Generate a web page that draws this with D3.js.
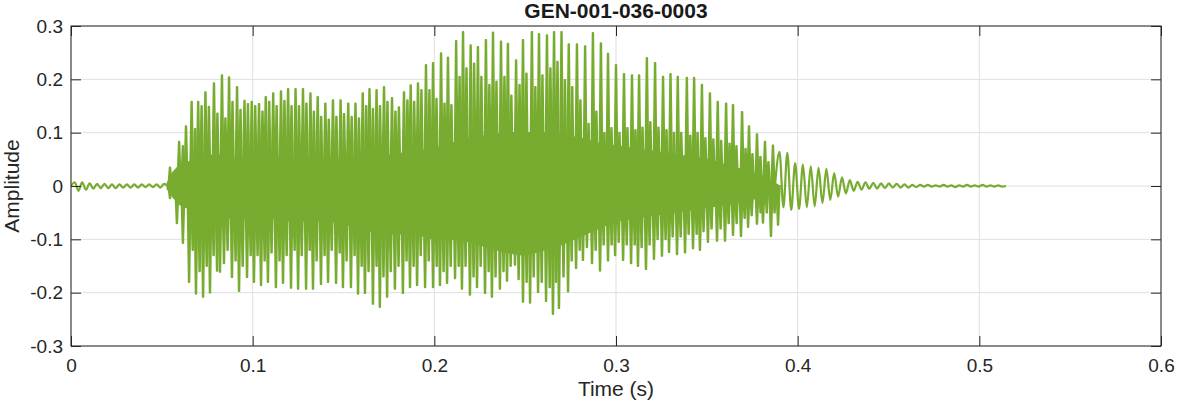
<!DOCTYPE html>
<html><head><meta charset="utf-8">
<script src="https://cdn.jsdelivr.net/npm/d3@7"></script>
<style>
html,body{margin:0;padding:0;background:#fff;}
svg{display:block;font-family:"Liberation Sans",Arial,Helvetica,sans-serif;}
</style></head><body>
<svg id="chart" width="1177" height="404"></svg>
<script>
// ---------------- data ----------------
const chartTitle = "GEN-001-036-0003";
const xLabel = "Time (s)";
const yLabel = "Amplitude";
const xTicks = [0, 0.1, 0.2, 0.3, 0.4, 0.5, 0.6];
const xTickLabels = ["0", "0.1", "0.2", "0.3", "0.4", "0.5", "0.6"];
const yTicks = [-0.3, -0.2, -0.1, 0, 0.1, 0.2, 0.3];
const yTickLabels = ["-0.3", "-0.2", "-0.1", "0", "0.1", "0.2", "0.3"];

// low-level ripple before voicing (extrema, every leadStep seconds from leadStart)
const leadStart = 0;
const leadStep = 0.00205;
const leadValues = [0.000, 0.007, -0.009, 0.007, -0.007, 0.005, -0.005, 0.004, -0.004, 0.004,
  -0.004, 0.003, -0.004, 0.003, -0.003, 0.003, -0.003, 0.003, -0.003, 0.003,
  -0.002, 0.003, -0.002, 0.003, -0.003, 0.004, 0.000];

// decaying oscillation after voicing (extrema, every tailStep seconds from tailStart)
const tailStart = 0.390;
const tailStep = 0.00215;
const tailValues = [0.064, -0.040, 0.062, -0.045, 0.043, -0.043, 0.040, -0.040, 0.037, -0.038,
  0.034, -0.032, 0.032, -0.026, 0.024, -0.020, 0.016, -0.014, 0.011, -0.009,
  0.008, -0.007, 0.007, -0.005, 0.006, -0.005, 0.005, -0.004, 0.005, -0.003,
  0.004, -0.003, 0.003, -0.003, 0.002, -0.002, 0.002, -0.001, 0.002, -0.001,
  0.001, -0.001, 0.002, -0.001, 0.001, -0.002, 0.001, -0.001, 0.002, -0.001,
  0.001, -0.001, 0.002, -0.001, 0.001, -0.001, 0.001, -0.001, 0.000];

// dense body of the voiced part: time, upper and lower bound of the filled band
const bodyTime = [0.053, 0.056, 0.06, 0.07, 0.08, 0.09, 0.10, 0.11, 0.12, 0.13, 0.14, 0.15, 0.16, 0.17,
  0.18, 0.19, 0.20, 0.21, 0.22, 0.23, 0.24, 0.25, 0.26, 0.27, 0.28, 0.29, 0.30, 0.31, 0.32, 0.33,
  0.34, 0.35, 0.36, 0.37, 0.38, 0.39];
const bodyUpper = [0.005, 0.025, 0.040, 0.050, 0.060, 0.050, 0.050, 0.055, 0.050, 0.050, 0.050, 0.050,
  0.050, 0.055, 0.060, 0.065, 0.070, 0.080, 0.090, 0.095, 0.100, 0.100, 0.100, 0.095, 0.090, 0.080,
  0.075, 0.070, 0.065, 0.060, 0.055, 0.050, 0.040, 0.030, 0.020, 0.000];
const bodyLower = [-0.005, -0.020, -0.035, -0.050, -0.060, -0.060, -0.060, -0.060, -0.065, -0.065, -0.065, -0.070,
  -0.080, -0.090, -0.090, -0.090, -0.100, -0.100, -0.105, -0.115, -0.125, -0.130, -0.120, -0.110, -0.095, -0.080,
  -0.065, -0.060, -0.055, -0.050, -0.045, -0.040, -0.035, -0.030, -0.020, 0.000];

// glottal-pulse spikes: [time, amplitude]
const mainPeaks = [[0.0545,0.035],[0.0595,0.083],[0.0633,0.112],[0.0664,0.158],[0.0700,0.158],[0.0740,0.176],
  [0.0787,0.193],[0.0831,0.208],[0.0870,0.204],[0.0914,0.186],[0.0955,0.160],[0.0995,0.158],[0.1035,0.154],
  [0.1072,0.167],[0.1113,0.174],[0.1156,0.178],[0.1195,0.182],[0.1236,0.182],[0.1277,0.182],[0.1318,0.174],
  [0.1358,0.167],[0.1400,0.155],[0.1442,0.161],[0.1484,0.161],[0.1526,0.155],[0.1566,0.155],[0.1606,0.174],
  [0.1643,0.182],[0.1682,0.180],[0.1723,0.186],[0.1767,0.165],[0.1805,0.148],[0.1833,0.176],[0.1870,0.189],
  [0.1910,0.193],[0.1954,0.227],[0.1993,0.231],[0.2037,0.249],[0.2075,0.241],[0.2120,0.272],[0.2158,0.289],
  [0.2200,0.264],[0.2240,0.261],[0.2284,0.274],[0.2323,0.288],[0.2367,0.271],[0.2405,0.267],[0.2450,0.236],
  [0.2488,0.274],[0.2537,0.289],[0.2576,0.285],[0.2620,0.283],[0.2659,0.289],[0.2700,0.289],[0.2740,0.266],
  [0.2785,0.266],[0.2830,0.262],[0.2873,0.287],[0.2917,0.268],[0.2956,0.248],[0.3000,0.227],[0.3044,0.210],
  [0.3088,0.208],[0.3127,0.208],[0.3170,0.240],[0.3215,0.231],[0.3259,0.205],[0.3300,0.210],[0.3340,0.205],
  [0.3390,0.203],[0.3430,0.203],[0.3473,0.190],[0.3517,0.174],[0.3560,0.158],[0.3606,0.155],[0.3644,0.152],
  [0.3694,0.139],[0.3732,0.112],[0.3776,0.097],[0.3820,0.083],[0.3864,0.076]];
const minorPeaks = [[0.0572,0.027],[0.0616,0.075],[0.0683,0.107],[0.0719,0.150],[0.0759,0.149],[0.0806,0.136],
  [0.0850,0.127],[0.0889,0.158],[0.0933,0.143],[0.0974,0.154],[0.1014,0.150],[0.1054,0.140],[0.1091,0.158],
  [0.1132,0.150],[0.1175,0.160],[0.1214,0.150],[0.1255,0.150],[0.1296,0.155],[0.1337,0.140],[0.1377,0.130],
  [0.1419,0.125],[0.1461,0.130],[0.1503,0.135],[0.1545,0.130],[0.1585,0.127],[0.1625,0.150],[0.1662,0.145],
  [0.1701,0.150],[0.1742,0.158],[0.1786,0.140],[0.1852,0.161],[0.1889,0.158],[0.1929,0.180],[0.1973,0.180],
  [0.2012,0.164],[0.2056,0.155],[0.2094,0.152],[0.2139,0.205],[0.2177,0.221],[0.2219,0.230],[0.2259,0.205],
  [0.2303,0.190],[0.2342,0.196],[0.2386,0.205],[0.2424,0.170],[0.2469,0.190],[0.2507,0.211],[0.2556,0.186],
  [0.2595,0.208],[0.2639,0.221],[0.2678,0.233],[0.2719,0.199],[0.2759,0.186],[0.2804,0.161],[0.2849,0.117],
  [0.2892,0.140],[0.2936,0.100],[0.2975,0.109],[0.3019,0.100],[0.3063,0.109],[0.3107,0.105],[0.3146,0.110],
  [0.3189,0.120],[0.3234,0.110],[0.3278,0.105],[0.3319,0.100],[0.3359,0.100],[0.3409,0.095],[0.3449,0.100],
  [0.3492,0.090],[0.3536,0.088],[0.3579,0.085],[0.3625,0.080],[0.3663,0.075],[0.3713,0.070],[0.3751,0.060],
  [0.3795,0.055],[0.3839,0.045]];
const mainTroughs = [[0.0545,-0.023],[0.0583,-0.070],[0.0616,-0.107],[0.0650,-0.180],[0.0688,-0.202],
  [0.0727,-0.208],[0.0765,-0.200],[0.0804,-0.159],[0.0820,-0.161],[0.0842,-0.145],[0.0886,-0.171],
  [0.0925,-0.197],[0.0969,-0.171],[0.1007,-0.180],[0.1046,-0.186],[0.1084,-0.180],[0.1128,-0.190],
  [0.1167,-0.182],[0.1211,-0.191],[0.1250,-0.193],[0.1294,-0.193],[0.1332,-0.193],[0.1376,-0.184],
  [0.1415,-0.180],[0.1459,-0.182],[0.1497,-0.190],[0.1541,-0.190],[0.1580,-0.202],[0.1618,-0.201],
  [0.1662,-0.221],[0.1700,-0.227],[0.1740,-0.208],[0.1783,-0.193],[0.1827,-0.201],[0.1866,-0.190],
  [0.1905,-0.186],[0.1949,-0.190],[0.1993,-0.190],[0.2031,-0.186],[0.2070,-0.182],[0.2114,-0.173],
  [0.2152,-0.193],[0.2196,-0.204],[0.2235,-0.190],[0.2279,-0.201],[0.2317,-0.208],[0.2361,-0.193],
  [0.2400,-0.178],[0.2444,-0.148],[0.2488,-0.217],[0.2527,-0.219],[0.2571,-0.199],[0.2615,-0.216],
  [0.2653,-0.240],[0.2686,-0.229],[0.2736,-0.198],[0.2780,-0.154],[0.2818,-0.139],[0.2868,-0.145],
  [0.2912,-0.159],[0.2956,-0.140],[0.2995,-0.130],[0.3039,-0.139],[0.3083,-0.145],[0.3121,-0.150],
  [0.3165,-0.156],[0.3209,-0.137],[0.3253,-0.131],[0.3292,-0.124],[0.3336,-0.128],[0.3380,-0.125],
  [0.3424,-0.117],[0.3462,-0.120],[0.3506,-0.105],[0.3556,-0.103],[0.3600,-0.103],[0.3644,-0.092],
  [0.3688,-0.094],[0.3727,-0.077],[0.3776,-0.071],[0.3809,-0.069],[0.3853,-0.094],[0.3892,-0.073]];
const minorTroughs = [[0.0670,-0.120],[0.0708,-0.160],[0.0747,-0.150],[0.0785,-0.130],[0.0862,-0.120],
  [0.0906,-0.140],[0.0945,-0.150],[0.0989,-0.130],[0.1027,-0.130],[0.1066,-0.140],[0.1104,-0.125],
  [0.1148,-0.140],[0.1187,-0.130],[0.1231,-0.120],[0.1270,-0.130],[0.1314,-0.120],[0.1352,-0.140],
  [0.1396,-0.130],[0.1435,-0.120],[0.1479,-0.125],[0.1517,-0.140],[0.1561,-0.130],[0.1600,-0.150],
  [0.1638,-0.160],[0.1682,-0.150],[0.1720,-0.170],[0.1760,-0.160],[0.1803,-0.150],[0.1847,-0.140],
  [0.1886,-0.150],[0.1925,-0.130],[0.1969,-0.140],[0.2013,-0.150],[0.2051,-0.160],[0.2090,-0.150],
  [0.2134,-0.150],[0.2172,-0.150],[0.2216,-0.170],[0.2255,-0.150],[0.2299,-0.160],[0.2337,-0.170],
  [0.2381,-0.160],[0.2420,-0.150],[0.2464,-0.175],[0.2508,-0.180],[0.2547,-0.170],[0.2591,-0.180],
  [0.2635,-0.190],[0.2670,-0.180],[0.2711,-0.170],[0.2756,-0.140],[0.2800,-0.120],[0.2840,-0.115],
  [0.2888,-0.120],[0.2932,-0.110],[0.2976,-0.110],[0.3015,-0.105],[0.3059,-0.110],[0.3103,-0.110],
  [0.3141,-0.115],[0.3185,-0.110],[0.3229,-0.100],[0.3273,-0.100],[0.3312,-0.095],[0.3356,-0.095],
  [0.3400,-0.090],[0.3444,-0.090],[0.3482,-0.085],[0.3526,-0.080],[0.3576,-0.080],[0.3620,-0.070],
  [0.3664,-0.070],[0.3708,-0.060],[0.3747,-0.055],[0.3796,-0.050],[0.3830,-0.050],[0.3873,-0.050]];

// ---------------- drawing ----------------
const W = 1177, H = 404;
const plot = {left: 71, top: 26, right: 1161, bottom: 346};
const lineColor = "#77AC30";
const axisColor = "#262626";

const svg = d3.select("#chart");
const x = d3.scaleLinear().domain([0, 0.6]).range([plot.left, plot.right]);
const y = d3.scaleLinear().domain([-0.3, 0.3]).range([plot.bottom, plot.top]);

svg.append("rect").attr("width", W).attr("height", H).attr("fill", "#fff");

svg.append("clipPath").attr("id", "clip").append("rect")
  .attr("x", plot.left).attr("y", plot.top)
  .attr("width", plot.right - plot.left).attr("height", plot.bottom - plot.top);

// grid
const grid = svg.append("g").attr("stroke", "#dfdfdf").attr("stroke-width", 1);
xTicks.forEach(t => grid.append("line")
  .attr("x1", x(t)).attr("x2", x(t)).attr("y1", plot.top).attr("y2", plot.bottom));
yTicks.forEach(t => grid.append("line")
  .attr("x1", plot.left).attr("x2", plot.right).attr("y1", y(t)).attr("y2", y(t)));

const g = svg.append("g").attr("clip-path", "url(#clip)");

// dense body
const bodyRows = bodyTime.map((t, i) => [t, bodyUpper[i], bodyLower[i]]);
g.append("path").datum(bodyRows)
  .attr("fill", lineColor)
  .attr("stroke", lineColor).attr("stroke-width", 1.5)
  .attr("d", d3.area().x(d => x(d[0])).y0(d => y(d[2])).y1(d => y(d[1])));

// ripple lines (smooth through the extrema)
const smooth = d3.line().x(d => x(d[0])).y(d => y(d[1])).curve(d3.curveMonotoneX);
const leadRows = leadValues.map((v, i) => [leadStart + i * leadStep, v]);
const tailRows = [[0.3875, 0.0]].concat(tailValues.map((v, i) => [tailStart + i * tailStep, v]));
[leadRows, tailRows].forEach(rows => g.append("path").datum(rows)
  .attr("fill", "none").attr("stroke", lineColor).attr("stroke-width", 2.2)
  .attr("stroke-linejoin", "round").attr("d", smooth));

// spikes: narrow tapered shapes rising from the zero line to each extreme
const line = d3.line().x(d => x(d[0])).y(d => y(d[1]));
const spikeBase = 0.001, spikeTip = 0.00018;
const spikes = [].concat(mainPeaks, minorPeaks, mainTroughs, minorTroughs);
g.append("g").selectAll("path").data(spikes).join("path")
  .attr("fill", lineColor).attr("stroke", lineColor).attr("stroke-width", 1.8)
  .attr("stroke-linejoin", "round")
  .attr("d", d => line([[d[0] - spikeBase, 0], [d[0] - spikeTip, d[1]], [d[0] + spikeTip, d[1]], [d[0] + spikeBase, 0]]) + "Z");

// axes
const tickFont = 19;
function styleAxis(sel) {
  sel.select(".domain").remove();
  sel.selectAll(".tick line").attr("stroke", axisColor);
  sel.selectAll(".tick text").attr("fill", axisColor).attr("font-size", tickFont)
    .attr("font-family", "'Liberation Sans', Arial, Helvetica, sans-serif");
}
svg.append("g").attr("transform", `translate(0,${plot.bottom})`)
  .call(d3.axisBottom(x).tickValues(xTicks).tickFormat((d, i) => xTickLabels[i]).tickSize(-10).tickPadding(13))
  .call(styleAxis);
svg.append("g").attr("transform", `translate(0,${plot.top})`)
  .call(d3.axisTop(x).tickValues(xTicks).tickFormat("").tickSize(-10))
  .call(styleAxis);
svg.append("g").attr("transform", `translate(${plot.left},0)`)
  .call(d3.axisLeft(y).tickValues(yTicks).tickFormat((d, i) => yTickLabels[i]).tickSize(-10).tickPadding(8))
  .call(styleAxis);
svg.append("g").attr("transform", `translate(${plot.right},0)`)
  .call(d3.axisRight(y).tickValues(yTicks).tickFormat("").tickSize(-10))
  .call(styleAxis);

// box
svg.append("rect")
  .attr("x", plot.left).attr("y", plot.top)
  .attr("width", plot.right - plot.left).attr("height", plot.bottom - plot.top)
  .attr("fill", "none").attr("stroke", axisColor).attr("stroke-width", 1);

// title & labels
svg.append("text").attr("x", (plot.left + plot.right) / 2).attr("y", 17.5)
  .attr("text-anchor", "middle").attr("font-size", 21).attr("font-weight", "bold")
  .attr("fill", "#1a1a1a").text(chartTitle);
svg.append("text").attr("x", (plot.left + plot.right) / 2).attr("y", 396)
  .attr("text-anchor", "middle").attr("font-size", 21).attr("fill", axisColor).text(xLabel);
svg.append("text").attr("transform", `translate(19,${(plot.top + plot.bottom) / 2}) rotate(-90)`)
  .attr("text-anchor", "middle").attr("font-size", 21).attr("fill", axisColor).text(yLabel);
</script>
</body></html>
